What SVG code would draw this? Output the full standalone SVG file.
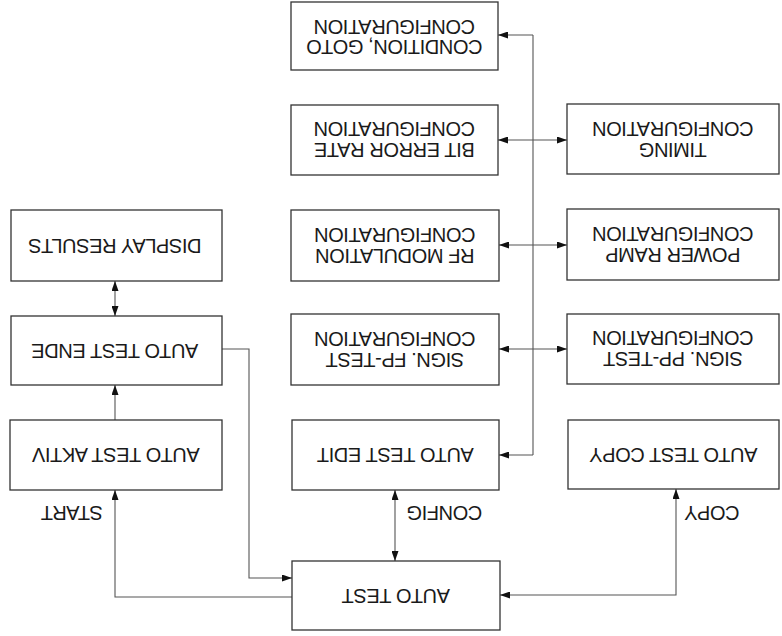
<svg xmlns="http://www.w3.org/2000/svg" width="782" height="636" viewBox="0 0 782 636">
<style>
.box{fill:#fff;stroke:#333;stroke-width:1.3}
.lbl{font-family:"Liberation Sans",Arial,Helvetica,sans-serif;font-size:20px;letter-spacing:-0.4px;fill:#1a1a1a;text-anchor:middle}
.con{fill:none;stroke:#555;stroke-width:1.1}
</style>
<defs>
<marker id="ah" viewBox="0 0 10 7" refX="10" refY="3.5" markerWidth="10" markerHeight="7" markerUnits="userSpaceOnUse" orient="auto-start-reverse">
<path d="M0,0 L10,3.5 L0,7 z" fill="#111"/>
</marker>
</defs>
<rect width="782" height="636" fill="#fff"/>
<g id="connectors">
<path class="con" d="M533,35 V455"/>
<path class="con" d="M533,35 H498" marker-end="url(#ah)"/>
<path class="con" d="M533,140 H498" marker-end="url(#ah)"/>
<path class="con" d="M533,140 H567" marker-end="url(#ah)"/>
<path class="con" d="M533,245 H499" marker-end="url(#ah)"/>
<path class="con" d="M533,245 H567" marker-end="url(#ah)"/>
<path class="con" d="M533,349 H499" marker-end="url(#ah)"/>
<path class="con" d="M533,349 H567" marker-end="url(#ah)"/>
<path class="con" d="M533,455 H499" marker-end="url(#ah)"/>
<path class="con" d="M115,281 V316" marker-start="url(#ah)" marker-end="url(#ah)"/>
<path class="con" d="M115,420 V385" marker-end="url(#ah)"/>
<path class="con" d="M222,349 H249 V578 H292" marker-end="url(#ah)"/>
<path class="con" d="M292,597 H115 V490" marker-end="url(#ah)"/>
<path class="con" d="M395,490 V561" marker-start="url(#ah)" marker-end="url(#ah)"/>
<path class="con" d="M500,595 H676 V489" marker-start="url(#ah)" marker-end="url(#ah)"/>
<text class="lbl" x="72" y="520" transform="rotate(180 72 513)">START</text>
<text class="lbl" x="444.5" y="520" transform="rotate(180 444.5 513)">CONFIG</text>
<text class="lbl" x="712" y="520" transform="rotate(180 712 513)">COPY</text>
</g>
<g id="n-condition">
<rect class="box" x="291" y="2" width="207" height="68"/>
<g transform="rotate(180 394.5 37)"><text class="lbl" x="394.5" y="34">CONDITION, GOTO</text><text class="lbl" x="394.5" y="54.5">CONFIGURATION</text></g>
</g>
<g id="n-ber">
<rect class="box" x="291" y="105" width="207" height="70"/>
<g transform="rotate(180 394.5 140)"><text class="lbl" x="394.5" y="137">BIT ERROR RATE</text><text class="lbl" x="394.5" y="158">CONFIGURATION</text></g>
</g>
<g id="n-timing">
<rect class="box" x="567" y="104" width="212" height="70"/>
<g transform="rotate(180 673 139.5)"><text class="lbl" x="673" y="136.5">TIMING</text><text class="lbl" x="673" y="157.5">CONFIGURATION</text></g>
</g>
<g id="n-display">
<rect class="box" x="11" y="210" width="211" height="71"/>
<text class="lbl" x="115" y="252.5" transform="rotate(180 115 245.5)">DISPLAY RESULTS</text>
</g>
<g id="n-rf">
<rect class="box" x="291" y="210" width="208" height="71"/>
<g transform="rotate(180 395 245.5)"><text class="lbl" x="395" y="242.5">RF MODULATION</text><text class="lbl" x="395" y="263.5">CONFIGURATION</text></g>
</g>
<g id="n-power">
<rect class="box" x="567" y="209" width="212" height="71"/>
<g transform="rotate(180 673 244.5)"><text class="lbl" x="673" y="241.5">POWER RAMP</text><text class="lbl" x="673" y="262.5">CONFIGURATION</text></g>
</g>
<g id="n-ende">
<rect class="box" x="11" y="316" width="211" height="69"/>
<text class="lbl" x="115" y="357.5" transform="rotate(180 115 350.5)">AUTO TEST ENDE</text>
</g>
<g id="n-fp">
<rect class="box" x="291" y="314" width="208" height="71"/>
<g transform="rotate(180 395 349.5)"><text class="lbl" x="395" y="346.5">SIGN. FP-TEST</text><text class="lbl" x="395" y="367.5">CONFIGURATION</text></g>
</g>
<g id="n-pp">
<rect class="box" x="567" y="314" width="212" height="70"/>
<g transform="rotate(180 673 349)"><text class="lbl" x="673" y="346">SIGN. PP-TEST</text><text class="lbl" x="673" y="367">CONFIGURATION</text></g>
</g>
<g id="n-aktiv">
<rect class="box" x="10" y="420" width="212" height="70"/>
<text class="lbl" x="116" y="462" transform="rotate(180 116 455)">AUTO TEST AKTIV</text>
</g>
<g id="n-edit">
<rect class="box" x="292" y="420" width="207" height="70"/>
<text class="lbl" x="395.5" y="462" transform="rotate(180 395.5 455)">AUTO TEST EDIT</text>
</g>
<g id="n-copy">
<rect class="box" x="568" y="420" width="211" height="69"/>
<text class="lbl" x="673.5" y="461.5" transform="rotate(180 673.5 454.5)">AUTO TEST COPY</text>
</g>
<g id="n-autotest">
<rect class="box" x="292" y="561" width="208" height="69"/>
<text class="lbl" x="396" y="602.5" transform="rotate(180 396 595.5)">AUTO TEST</text>
</g>
</svg>
